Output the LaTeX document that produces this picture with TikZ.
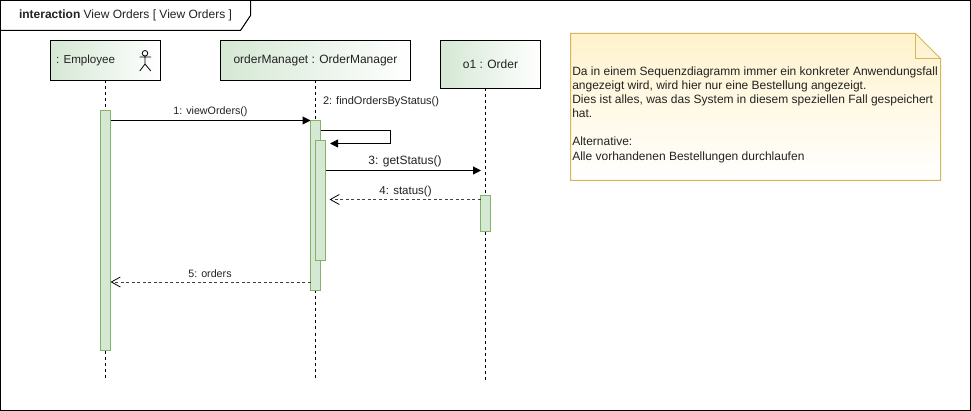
\documentclass[tikz,border=0pt]{standalone}
\usepackage{fontspec}
\setmainfont{Liberation Sans}
\usetikzlibrary{arrows.meta,shadings}
\definecolor{headgreen}{HTML}{D5E8D4}
\definecolor{barline}{HTML}{82B366}
\definecolor{notefill}{HTML}{FFF2CC}
\definecolor{noteline}{HTML}{D6B656}
\definecolor{txt}{HTML}{222222}
\tikzset{
  x=1pt,y=-1pt,
  every node/.style={font=\fontsize{12}{14}\selectfont,text=txt,inner sep=0pt,outer sep=0pt},
  head/.style={draw=black,line width=1pt,left color=headgreen,right color=white,shading angle=90},
  bar/.style={draw=barline,line width=1pt,fill=headgreen,minimum width=10pt},
  life/.style={draw=black,line width=0.8pt,dash pattern=on 3pt off 3pt},
  call/.style={draw=black,line width=1pt,-{Triangle[length=8pt,width=8pt]}},
  reply/.style={draw=black!75,line width=0.8pt,dash pattern=on 3pt off 2.5pt,-{Straight Barb[length=9pt,width=10pt,black]}},
  msg/.style={font=\fontsize{10.7}{12}\selectfont},
  msgbig/.style={font=\fontsize{11.5}{13}\selectfont},
}
\begin{document}
\begin{tikzpicture}
\useasboundingbox (0,0) rectangle (971,411);
% frame
\draw[black,line width=1pt,fill=white] (0.5,0.5) rectangle (970.5,410.5);
\draw[black,line width=1pt] (0.5,30.5) -- (240.5,30.5) -- (250.5,15.5) -- (250.5,0.5);
\node[anchor=west] (title) at (19,15.5) {\textbf{interaction} View Orders [ View Orders ]};
% heads
\node[head,minimum width=110pt,minimum height=40pt] (emp) at (105.5,60.5) {};
\node[anchor=west,font=\fontsize{11.6}{14}\selectfont] (empl) at (56,60.5) {: Employee};
\node[head,minimum width=190pt,minimum height=40pt] (mgr) at (315.5,60.5) {orderManaget : OrderManager};
\node[head,minimum width=100pt,minimum height=48pt] (ord) at (490.5,64.5) {o1 : Order};
% actor
\draw[black,line width=0.8pt] (145,53.3) circle (2.8);
\draw[black,line width=0.8pt] (145,56.1) -- (145,64) (139.5,57) -- (151,57) (139.8,71) -- (145,64) -- (150.8,71);
% lifelines
\coordinate (empend) at (105.5,378);
\coordinate (mgrend) at (315.5,378);
\coordinate (ordend) at (485.5,381);
\coordinate (ordtop) at (485.5,88.5);
\draw[life] (emp.south) -- (empend);
\draw[life] (mgr.south) -- (mgrend);
\draw[life] (ordtop) -- (ordend);
% activations
\node[bar,minimum height=240pt] (a1) at (105.5,230.5) {};
\node[bar,minimum height=170pt] (a2) at (315.5,205.5) {};
\node[bar,minimum height=120pt] (a3) at (320.5,200.5) {};
\node[bar,minimum height=36pt] (a4) at (485.5,213.5) {};
% messages
\coordinate (m1s) at (a1.east |- 0,120.5);
\coordinate (m1e) at (a2.west |- 0,120.5);
\draw[call] (m1s) -- (m1e);
\node[msg] (l1) at (210.5,112) {1: viewOrders()};
\coordinate (m2s) at (a2.east |- 0,130.5);
\coordinate (m2a) at (390.5,130.5);
\coordinate (m2b) at (390.5,143.5);
\coordinate (m2e) at (a3.east |- 0,143.5);
\draw[call] (m2s) -- (m2a) -- (m2b) -- ([xshift=4.5pt]m2e);
\node[anchor=west,font=\fontsize{11}{13}\selectfont] (l2) at (323,101.5) {2: findOrdersByStatus()};
\coordinate (m3s) at (a3.east |- 0,170.5);
\coordinate (m3e) at (481,170.5);
\draw[call] (m3s) -- (m3e);
\node[font=\fontsize{12}{14}\selectfont] (l3) at (405,161.5) {3: getStatus()};
\coordinate (m4s) at (a4.west |- 0,199.5);
\coordinate (m4e) at (a3.east |- 0,199.5);
\draw[reply] (m4s) -- ([xshift=4pt]m4e);
\node[msgbig] (l4) at (405.5,191.5) {4: status()};
\coordinate (m5s) at (a2.west |- 0,282);
\coordinate (m5e) at (a1.east |- 0,282);
\draw[reply] (m5s) -- (m5e);
\node[msg] (l5) at (210,273.5) {5: orders};
% note
\path[top color=notefill,bottom color=white,draw=noteline,line width=1pt]
  (570.5,33.5) -- (915.5,33.5) -- (940.5,58.5) -- (940.5,180.5) -- (570.5,180.5) -- cycle;
\draw[noteline,line width=1pt] (915.5,33.5) -- (915.5,58.5) -- (940.5,58.5);
\node[anchor=north west,align=left,font=\fontsize{12}{14}\selectfont] (note) at (572.3,67.3)
 {Da in einem Sequenzdiagramm immer ein konkreter Anwendungsfall\\
  angezeigt wird, wird hier nur eine Bestellung angezeigt.\\
  Dies ist alles, was das System in diesem speziellen Fall gespeichert\\
  hat.\\[14pt]
  Alternative:\\[0.5pt]
  Alle vorhandenen Bestellungen durchlaufen};
\end{tikzpicture}
\end{document}
